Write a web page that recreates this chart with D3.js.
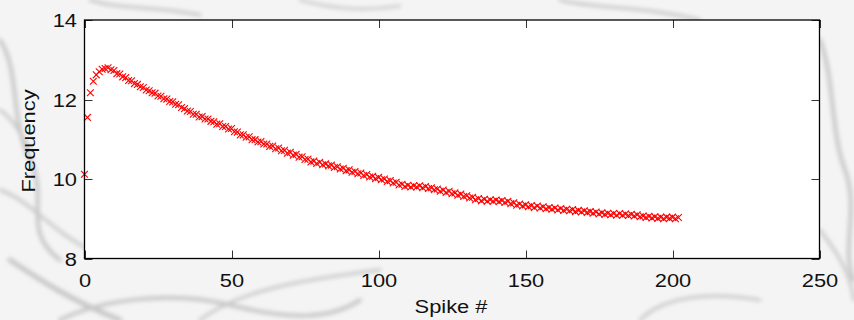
<!DOCTYPE html>
<html>
<head>
<meta charset="utf-8">
<script src="https://cdn.jsdelivr.net/npm/d3@7"></script>
<style>
  html, body { margin: 0; padding: 0; background: #f4f4f4; }
  svg { display: block; }
  text { font-family: "Liberation Sans", Arial, Helvetica, sans-serif; fill: #111; }
</style>
</head>
<body>
<svg id="chart" width="854" height="320"></svg>
<script>
// Instantaneous firing frequency for each spike of the train
const spikeIndex = d3.range(0, 203);
const frequency = [
  10.12, 11.55, 12.17, 12.46, 12.62, 12.70, 12.76, 12.78, 12.80, 12.75,
  12.73, 12.65, 12.64, 12.57, 12.55, 12.48, 12.47, 12.40, 12.38, 12.32,
  12.30, 12.24, 12.22, 12.17, 12.16, 12.09, 12.08, 12.02, 12.01, 11.95,
  11.94, 11.88, 11.87, 11.80, 11.77, 11.71, 11.70, 11.63, 11.63, 11.56,
  11.57, 11.51, 11.51, 11.45, 11.44, 11.38, 11.39, 11.32, 11.32, 11.26,
  11.27, 11.19, 11.18, 11.11, 11.11, 11.05, 11.06, 10.99, 10.99, 10.93,
  10.94, 10.88, 10.88, 10.82, 10.83, 10.76, 10.78, 10.71, 10.72, 10.65,
  10.67, 10.60, 10.62, 10.55, 10.56, 10.49, 10.50, 10.43, 10.45, 10.39,
  10.42, 10.36, 10.38, 10.33, 10.35, 10.29, 10.31, 10.25, 10.27, 10.21,
  10.23, 10.17, 10.19, 10.13, 10.15, 10.09, 10.11, 10.05, 10.07, 10.01,
  10.04, 9.98, 10.00, 9.94, 9.96, 9.90, 9.92, 9.85, 9.87, 9.81,
  9.84, 9.80, 9.83, 9.80, 9.83, 9.78, 9.81, 9.76, 9.78, 9.73,
  9.75, 9.69, 9.72, 9.66, 9.69, 9.63, 9.65, 9.59, 9.62, 9.56,
  9.58, 9.52, 9.54, 9.48, 9.51, 9.45, 9.49, 9.44, 9.48, 9.44,
  9.47, 9.43, 9.46, 9.41, 9.44, 9.38, 9.40, 9.34, 9.37, 9.32,
  9.35, 9.30, 9.33, 9.28, 9.32, 9.27, 9.30, 9.25, 9.28, 9.24,
  9.27, 9.22, 9.26, 9.21, 9.24, 9.20, 9.23, 9.18, 9.21, 9.17,
  9.20, 9.16, 9.18, 9.14, 9.17, 9.12, 9.15, 9.11, 9.14, 9.10,
  9.13, 9.09, 9.13, 9.09, 9.12, 9.08, 9.11, 9.07, 9.10, 9.05,
  9.07, 9.03, 9.06, 9.02, 9.05, 9.01, 9.04, 9.00, 9.04, 9.01,
  9.04, 9.00, 9.03
];
const xTicks = [0, 50, 100, 150, 200, 250];
const yTicks = [8, 10, 12, 14];

const svg = d3.select("#chart");
const plot = { left: 84.5, right: 819.5, top: 20, bottom: 258.5 };
const fontSize = 19;
const stretch = 1.15;   // wide glyphs, as in the exported figure

// Soft branching texture behind the figure
const defs = svg.append("defs");
defs.append("filter").attr("id", "soft")
  .append("feGaussianBlur").attr("stdDeviation", 2.2);
const bg = svg.append("g").attr("filter", "url(#soft)")
  .attr("fill", "none").attr("stroke", "#c6c6c6").attr("stroke-linecap", "round");
const branches = [
  ["M0,40 C20,70 10,120 30,160 S20,230 60,260", 4],
  ["M0,190 C30,200 50,230 90,250", 3],
  ["M10,260 C40,280 70,300 120,320", 5],
  ["M60,320 C100,300 170,290 230,305 S330,320 360,300", 4],
  ["M200,320 C240,290 300,280 380,270", 3],
  ["M560,0 C600,10 640,5 700,20", 3],
  ["M820,40 C835,80 830,130 845,170 S840,250 854,280", 4],
  ["M820,230 C835,250 850,270 854,300", 3],
  ["M640,320 C660,300 700,290 760,300", 3],
  ["M90,0 C120,10 150,5 200,15", 3],
  ["M300,0 C330,8 360,12 400,6", 2.5],
  ["M0,110 C15,120 25,140 30,150", 3]
];
branches.forEach(([d, w]) => bg.append("path").attr("d", d).attr("stroke-width", w));

const x = d3.scaleLinear().domain([0, 250]).range([plot.left, plot.right]);
const y = d3.scaleLinear().domain([8, 14]).range([plot.bottom, plot.top]);

// Plot area
svg.append("rect")
  .attr("x", plot.left).attr("y", plot.top)
  .attr("width", plot.right - plot.left).attr("height", plot.bottom - plot.top)
  .attr("fill", "#ffffff");

// Inward ticks on all four sides
const tickLen = 8;
const tickG = svg.append("g").attr("stroke", "#333").attr("stroke-width", 1);
xTicks.forEach(t => {
  const px = Math.round(x(t)) + 0.5;
  tickG.append("line").attr("x1", px).attr("x2", px).attr("y1", plot.bottom).attr("y2", plot.bottom - tickLen);
  tickG.append("line").attr("x1", px).attr("x2", px).attr("y1", plot.top).attr("y2", plot.top + tickLen);
});
yTicks.forEach(t => {
  const py = Math.round(y(t)) + 0.5;
  tickG.append("line").attr("x1", plot.left).attr("x2", plot.left + tickLen).attr("y1", py).attr("y2", py);
  tickG.append("line").attr("x1", plot.right).attr("x2", plot.right - tickLen).attr("y1", py).attr("y2", py);
});

// Data markers
const mark = 3.4;
svg.append("g")
  .selectAll("path")
  .data(spikeIndex.map((s, i) => [s, frequency[i]]))
  .join("path")
  .attr("transform", d => `translate(${x(d[0])},${y(d[1])})`)
  .attr("d", `M${-mark},${-mark}L${mark},${mark}M${-mark},${mark}L${mark},${-mark}`)
  .attr("fill", "none")
  .attr("stroke", "#ff0000")
  .attr("stroke-width", 1.1);

// Frame
svg.append("rect")
  .attr("x", plot.left).attr("y", plot.top)
  .attr("width", plot.right - plot.left).attr("height", plot.bottom - plot.top)
  .attr("fill", "none").attr("stroke", "#000").attr("stroke-width", 1.3);

// Tick labels
svg.append("g").selectAll("text").data(xTicks).join("text")
  .attr("transform", d => `translate(${x(d) + 0.5},287) scale(${stretch},1)`)
  .attr("text-anchor", "middle").attr("font-size", fontSize)
  .text(d => d);
svg.append("g").selectAll("text").data(yTicks).join("text")
  .attr("transform", d => `translate(77,${y(d) + 7}) scale(${stretch},1)`)
  .attr("text-anchor", "end").attr("font-size", fontSize)
  .text(d => d);

// Axis titles
svg.append("text")
  .attr("transform", `translate(451,313) scale(${stretch},1)`)
  .attr("text-anchor", "middle").attr("font-size", fontSize)
  .text("Spike #");
svg.append("text")
  .attr("transform", `translate(34.5,141) rotate(-90) scale(${stretch},1)`)
  .attr("text-anchor", "middle").attr("font-size", fontSize)
  .text("Frequency");
</script>
</body>
</html>
